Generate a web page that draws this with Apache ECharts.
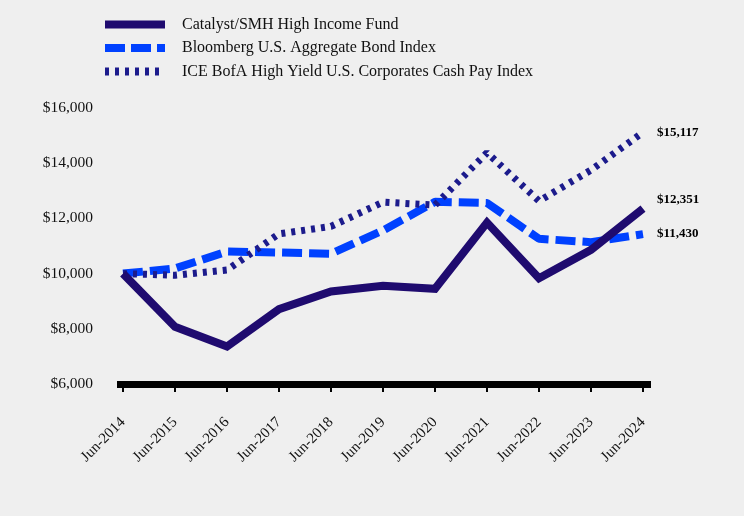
<!DOCTYPE html>
<html>
<head>
<meta charset="utf-8">
<script src="https://cdn.jsdelivr.net/npm/echarts@6/dist/echarts.min.js"></script>
<style>
html,body{margin:0;padding:0;background:#efefef;}
#chart{width:744px;height:516px;}
</style>
</head>
<body>
<div id="chart"></div>
<script>
const categories = ['Jun-2014','Jun-2015','Jun-2016','Jun-2017','Jun-2018','Jun-2019','Jun-2020','Jun-2021','Jun-2022','Jun-2023','Jun-2024'];
const catalyst = [10000, 8070, 7360, 8710, 9350, 9560, 9450, 11850, 9830, 10860, 12351];
const bloomberg = [10000, 10186, 10797, 10764, 10721, 11565, 12600, 12560, 11260, 11140, 11430];
const iceBofA = [10000, 9940, 10130, 11440, 11710, 12590, 12480, 14380, 12630, 13750, 15117];
const seriesNames = ['Catalyst/SMH High Income Fund','Bloomberg U.S. Aggregate Bond Index','ICE BofA High Yield U.S. Corporates Cash Pay Index'];
const yTicks = [6000, 8000, 10000, 12000, 14000, 16000];

const serif = 'Liberation Serif, Times New Roman, serif';
const cCat = '#1f0b6f', cBb = '#0041ff', cIce = '#1c1b8c';
const fmt = v => '$' + Number(v).toLocaleString('en-US');

const chart = echarts.init(document.getElementById('chart'), null, {renderer:'canvas'});
const endLabel = (off) => ({show:true, formatter: p => fmt(p.value), distance: 14, offset: off,
  fontFamily: serif, fontWeight:'bold', fontSize: 13, color:'#000'});

chart.setOption({
  backgroundColor: '#efefef',
  animation: false,
  legend: {
    orient: 'vertical', left: 96, top: 11,
    itemWidth: 60, itemHeight: 8, itemGap: 6.5,
    textStyle: {fontFamily: serif, fontSize: 16, color:'#111', lineHeight: 17, padding:[0,0,0,12]},
    data: [
      {name: seriesNames[0], itemStyle:{opacity:0}, lineStyle:{width:8, color:cCat, type:'solid', cap:'butt'}},
      {name: seriesNames[1], itemStyle:{opacity:0}, lineStyle:{width:8, color:cBb, type:[20,6], cap:'butt'}},
      {name: seriesNames[2], itemStyle:{opacity:0}, lineStyle:{width:8, color:cIce, type:[4,6], cap:'butt'}}
    ]
  },
  grid: [
    {left: 123, right: 101, top: 108, bottom: 132},
    {left: 117, right: 93, top: 108, bottom: 132}
  ],
  xAxis: [
    {type:'category', gridIndex:0, data: categories, boundaryGap:false,
     axisLine:{show:false},
     axisTick:{show:true, length:8, lineStyle:{color:'#000', width:2}},
     axisLabel:{rotate:45, margin:36, fontFamily:serif, fontSize:15, color:'#111'}},
    {type:'value', gridIndex:1, min:0, max:1, show:true,
     axisLine:{show:true, onZero:false, lineStyle:{color:'#000', width:7, cap:'butt'}},
     axisTick:{show:false}, axisLabel:{show:false}, splitLine:{show:false}}
  ],
  yAxis: [
    {type:'value', gridIndex:0, min: yTicks[0], max: yTicks[yTicks.length-1], interval: 2000,
     axisLine:{show:false}, axisTick:{show:false}, splitLine:{show:false},
     axisLabel:{margin:30, fontFamily:serif, fontSize:15.5, color:'#111', formatter: v => fmt(v)}},
    {type:'value', gridIndex:1, show:false, min:0, max:1}
  ],
  series: [
    {name: seriesNames[0], type:'line', data: catalyst, symbol:'none', z:4,
     lineStyle:{width:8, color:cCat, cap:'butt', join:'miter'}, itemStyle:{color:cCat},
     endLabel: endLabel([0,-9])},
    {name: seriesNames[1], type:'line', data: bloomberg, symbol:'none', z:2,
     lineStyle:{width:8, color:cBb, type:[20,7], cap:'butt'}, itemStyle:{color:cBb},
     endLabel: endLabel([0,0])},
    {name: seriesNames[2], type:'line', data: iceBofA, symbol:'none', z:3,
     lineStyle:{width:7, color:cIce, type:[4,6], cap:'butt'}, itemStyle:{color:cIce},
     endLabel: endLabel([0,0])}
  ]
});
</script>
</body>
</html>
